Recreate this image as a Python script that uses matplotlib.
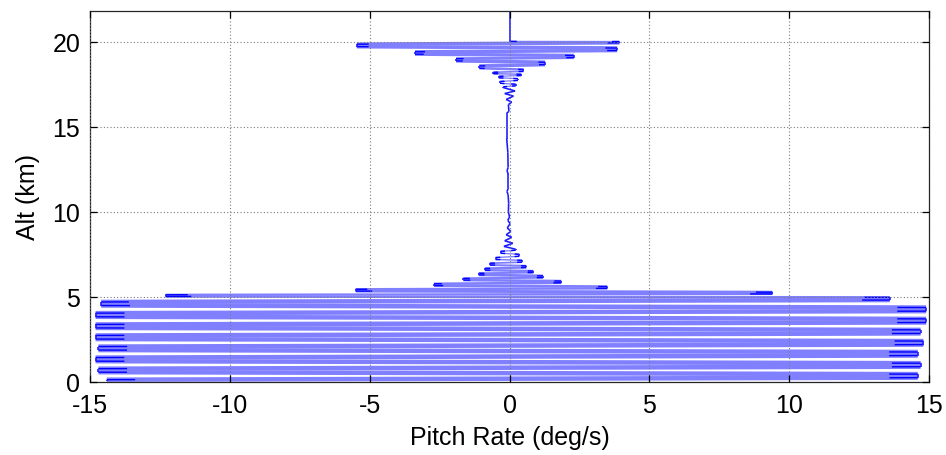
import numpy as np
import matplotlib
matplotlib.use("Agg")
import matplotlib.pyplot as plt
from matplotlib.collections import LineCollection

plt.rcParams["font.family"] = ["Liberation Sans", "DejaVu Sans"]
plt.rcParams["axes.unicode_minus"] = False

# ---- data: turning points of the trace ----
# low altitude, saturated oscillation
low_alt = [0.03, 0.36, 0.68, 1.00, 1.33, 1.66, 1.98, 2.30, 2.63, 2.96,
           3.28, 3.60, 3.94, 4.27, 4.60, 4.92]
low_rate = [-14.4, 14.6, -14.7, 14.7, -14.8, 14.6, -14.7, 14.8, -14.8, 14.7,
            -14.8, 14.9, -14.8, 14.9, -14.6, 13.6]
# damping oscillation 5-9.3 km
taper_alt = [5.08, 5.22, 5.40, 5.55, 5.72, 5.88, 6.04, 6.18, 6.35, 6.47,
             6.62, 6.78, 6.92, 7.10, 7.25, 7.45, 7.62, 7.80, 7.97, 8.15,
             8.30, 8.50, 8.65, 8.85, 9.05, 9.30]
taper_rate = [-12.3, 9.4, -5.5, 3.5, -2.7, 1.85, -1.65, 1.2, -1.1, 0.85,
              -0.88, 0.6, -0.7, 0.45, -0.5, 0.35, -0.32, 0.22, -0.2, 0.12,
              -0.17, 0.08, -0.12, 0.05, -0.08, 0.02]
# calm stretch
calm_alt = [9.5, 9.7, 10.0, 10.5, 11.0, 11.2, 11.4, 12.2, 12.4, 12.6,
            13.5, 14.3, 15.8, 15.9, 16.3]
calm_rate = [-0.06, 0.0, -0.04, -0.03, -0.05, -0.09, -0.04, -0.04, -0.09, -0.05,
             -0.06, -0.1, -0.1, -0.02, -0.04]
# growing oscillation 16-20 km and top
upper_alt = [16.45, 16.6, 16.8, 16.95, 17.1, 17.3, 17.45, 17.6, 17.78, 17.92,
             18.05, 18.15, 18.3, 18.5, 18.72, 18.94, 19.12, 19.33, 19.55, 19.78,
             20.0, 20.02, 21.8]
upper_rate = [0.08, -0.12, 0.14, -0.17, 0.2, -0.22, 0.22, -0.34, 0.3, -0.38,
              0.42, -0.58, 0.5, -1.08, 1.27, -1.91, 2.3, -3.38, 3.85, -5.46,
              3.93, 0.0, 0.0]

x_ticks = [-15, -10, -5, 0, 5, 10, 15]
y_ticks = [0, 5, 10, 15, 20]

alt = np.array(low_alt + taper_alt + calm_alt + upper_alt)
rate = np.array(low_rate + taper_rate + calm_rate + upper_rate)

W, H = 946, 456
FS = 18
fig = plt.figure(figsize=(W / 100, H / 100), dpi=100)
ax = fig.add_axes([90 / W, 1 - 383 / H, (929 - 90) / W, (383 - 12) / H])
ax.set_xlim(-15, 15)
ax.set_ylim(0, 21.8)

# rendering: wide sweeps are drawn as near-horizontal bands (as the
# anti-aliased original shows them), small ones as a thin line
pts = ax.transData.transform(np.column_stack([rate, alt]))
px2pt = 72 / 100
light_segs, light_w = [], []
thin_segs, dark_segs = [], []
for i in range(len(alt) - 1):
    x0, y0, x1, y1 = rate[i], alt[i], rate[i + 1], alt[i + 1]
    span = abs(pts[i + 1, 0] - pts[i, 0])
    dy_px = abs(pts[i + 1, 1] - pts[i, 1])
    if span > 12 and span > 3 * dy_px:
        mid = 0.5 * (y0 + y1)
        t = 0.18 * (y1 - y0)
        a = np.array([x0, mid - t])
        b = np.array([x1, mid + t])
        thin_segs.append([(x0, y0), tuple(a)])
        thin_segs.append([tuple(b), (x1, y1)])
        light_segs.append([a, b])
        light_w.append(np.clip(min(span / 18, 0.95 * dy_px), 1.3, 4.5) * px2pt)
        L = min(0.3, (0.03 * span + 4) / span)
        dark_segs.append([a, a + L * (b - a)])
        dark_segs.append([b - L * (b - a), b])
    else:
        thin_segs.append([(x0, y0), (x1, y1)])

ax.add_collection(LineCollection(light_segs, colors="#8080ff",
                                 linewidths=light_w, capstyle="butt",
                                 zorder=1.5))
ax.add_collection(LineCollection(dark_segs, colors="#0000ff",
                                 linewidths=1.4 * px2pt, capstyle="butt",
                                 zorder=1.8))
ax.add_collection(LineCollection(thin_segs, colors="#1a1aff",
                                 linewidths=1.6 * px2pt, zorder=1.8))

ax.set_xticks(x_ticks)
ax.set_yticks(y_ticks)
ax.set_axisbelow(False)
ax.grid(True, linestyle=(0, (1, 2)), color="#7a7a7a", linewidth=0.8)
ax.tick_params(direction="in", length=5, width=0.9, top=True, right=True,
               labelsize=FS, colors="black")
ax.tick_params(axis="x", pad=8)
ax.tick_params(axis="y", pad=7)
for s in ax.spines.values():
    s.set_linewidth(0.9)
    s.set_color("#262626")
ax.set_xlabel("Pitch Rate (deg/s)", fontsize=FS, labelpad=6)
ax.set_ylabel("Alt (km)", fontsize=FS, labelpad=9)

fig.savefig("out.png", dpi=100)
